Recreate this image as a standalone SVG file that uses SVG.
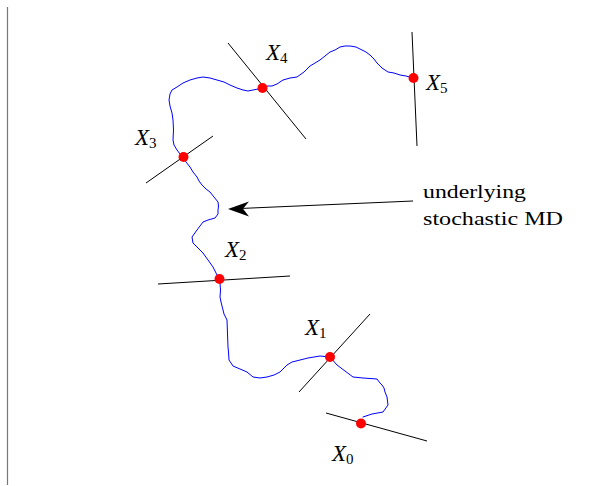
<svg xmlns="http://www.w3.org/2000/svg" width="612" height="486" viewBox="0 0 612 486">
<style>
.ax{stroke:#000;stroke-width:1;fill:none}
.path{stroke:#0000ff;stroke-width:1;fill:none;stroke-linejoin:round;stroke-linecap:round}
.dot{fill:#ff0000}
.lbl{font-family:'Liberation Serif','Times New Roman',serif;font-size:23px;font-style:italic;fill:#000}
.sub{font-size:15px;font-style:normal}
.txt{font-family:'Liberation Serif','Times New Roman',serif;font-size:19px;fill:#000}
</style>
<rect width="612" height="486" fill="#fff"/>
<line x1="7.5" y1="7" x2="7.5" y2="485" stroke="#777" stroke-width="1.2"/>
<g id="connectors">
<path class="path" d="M363,417 L372,414 L383,412 L388,405 L387,397 L385,392 L384,388 L382,385 L380,383 L377,379 L370,378.5 L363,378 L353,377 L345,371 L337,365 L330,357 L320,356 L308,358 L300,360 L292,362 L287,365 L283,369 L280,372 L274,375 L267,377 L260,378 L253,377 L247,372 L240,369 L233,366 L229,360 L228.5,352 L228,347 L227.5,334 L227,320 L224,314 L223,310 L221,302 L220,297 L220.5,290 L220,283 L219,279 L216,273 L213,267 L208,260 L203,253 L198,248 L193,243 L192,237 L197,230 L200,226 L203,222 L208,220 L215,218 L218,214 L218,210 L218.5,206 L218,202 L214,197 L210,192 L206,189 L202,185 L199,181 L197,177 L193,172 L190,167 L186,162 L183,157 L180,154 L177,150 L174,145 L173,140 L173.5,130 L173,120 L172,113 L170,106 L169,100 L170,94 L172,90 L177,87 L183,83 L190,80 L197,78 L203,77 L210,78 L217,80 L224,82 L230,85 L237,88 L243,90 L248,91 L253,90 L258,89 L263,87 L268,86 L272,86 L277,84 L283,80 L290,78 L297,77 L304,72 L310,66 L315,63 L320,60 L325,56 L330,52 L335,50 L340,47 L345,46 L350,46 L356,47 L362,50 L366,52 L370,55 L374,59 L377,63 L382,68 L388,72 L394,73 L400,75 L406,76 L413,78"/>
<line class="ax" x1="413" y1="201" x2="240" y2="208.5"/>
<path d="M228,209 L249,201.5 L243,208.7 L249,216.5 Z" fill="#000"/>
</g>
<g id="X0">
<line class="ax" x1="326" y1="413" x2="427" y2="441"/>
<circle class="dot" cx="361" cy="423.5" r="5"/>
<text class="lbl" x="332" y="461">X<tspan class="sub" dy="3">0</tspan></text>
</g>
<g id="X1">
<line class="ax" x1="299" y1="392" x2="370" y2="314"/>
<circle class="dot" cx="330" cy="357" r="5"/>
<text class="lbl" x="305" y="335">X<tspan class="sub" dy="3">1</tspan></text>
</g>
<g id="X2">
<line class="ax" x1="158" y1="284" x2="290" y2="276"/>
<circle class="dot" cx="219.5" cy="279" r="5"/>
<text class="lbl" x="225" y="257">X<tspan class="sub" dy="3">2</tspan></text>
</g>
<g id="X3">
<line class="ax" x1="146" y1="183" x2="213" y2="136"/>
<circle class="dot" cx="183.5" cy="157" r="5"/>
<text class="lbl" x="135" y="145">X<tspan class="sub" dy="3">3</tspan></text>
</g>
<g id="X4">
<line class="ax" x1="228" y1="43" x2="306" y2="139"/>
<circle class="dot" cx="262.5" cy="88" r="5"/>
<text class="lbl" x="266" y="60">X<tspan class="sub" dy="3">4</tspan></text>
</g>
<g id="X5">
<line class="ax" x1="412" y1="32" x2="417" y2="146"/>
<circle class="dot" cx="413.5" cy="78" r="5"/>
<text class="lbl" x="426" y="90">X<tspan class="sub" dy="3">5</tspan></text>
</g>
<g id="label">
<text class="txt" x="423" y="198" textLength="103" lengthAdjust="spacingAndGlyphs">underlying</text>
<text class="txt" x="423" y="225" textLength="140" lengthAdjust="spacingAndGlyphs">stochastic MD</text>
</g>
</svg>
